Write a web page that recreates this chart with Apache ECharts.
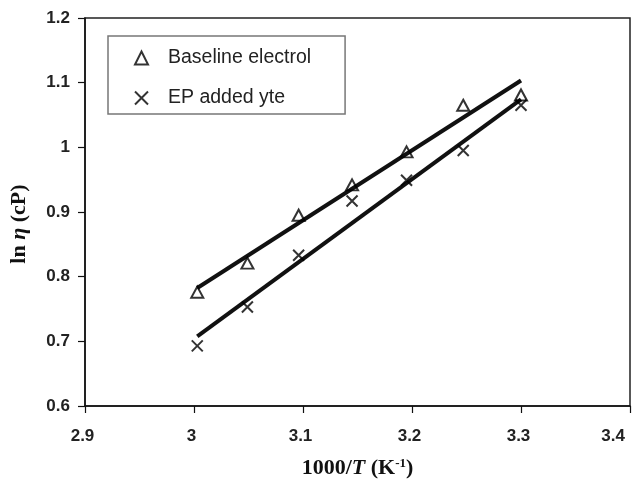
<!DOCTYPE html>
<html>
<head>
<meta charset="utf-8">
<script src="https://cdn.jsdelivr.net/npm/echarts@6/dist/echarts.min.js"></script>
<style>
html,body{margin:0;padding:0;background:#fff;}
#c{width:641px;height:490px;}
</style>
</head>
<body>
<div id="c"></div>
<script>
// Data
const xInvT = [3.003, 3.049, 3.096, 3.145, 3.195, 3.247, 3.300];
const baseline = [0.776, 0.821, 0.895, 0.942, 0.993, 1.065, 1.081];
const epAdded = [0.693, 0.753, 0.833, 0.917, 0.949, 0.995, 1.065];
const seriesNames = ['Baseline electrol', 'EP added yte'];
const xTicks = [2.9, 3, 3.1, 3.2, 3.3, 3.4];
const yTicks = [0.6, 0.7, 0.8, 0.9, 1, 1.1, 1.2];

function fitLine(xs, ys) {
  const n = xs.length;
  const mx = xs.reduce((a, b) => a + b, 0) / n;
  const my = ys.reduce((a, b) => a + b, 0) / n;
  let sxy = 0, sxx = 0;
  for (let i = 0; i < n; i++) { sxy += (xs[i] - mx) * (ys[i] - my); sxx += (xs[i] - mx) ** 2; }
  const k = sxy / sxx, b = my - k * mx;
  const x0 = xs[0], x1 = xs[n - 1];
  return [[x0, k * x0 + b], [x1, k * x1 + b]];
}
const pair = (xs, ys) => xs.map((x, i) => [x, ys[i]]);

const crossPath = 'path://M0,0L10,10M10,0L0,10';
const markerStyle = { color: 'transparent', borderColor: '#000', borderWidth: 2 };
const fmt = v => String(+(+v).toFixed(2));
const serif = 'Liberation Serif, Times New Roman, serif';
const sans = 'Liberation Sans, Arial, sans-serif';

const chart = echarts.init(document.getElementById('c'), null, { renderer: 'canvas' });
chart.setOption({
  animation: false,
  backgroundColor: '#fff',
  grid: { left: 85, right: 11, top: 18, bottom: 84, containLabel: false, outerBoundsMode: 'none',
    show: true, borderColor: '#222', borderWidth: 1.5, backgroundColor: 'transparent' },
  legend: {
    orient: 'vertical',
    left: 108, top: 36,
    data: seriesNames,
    itemWidth: 13, itemHeight: 13,
    itemGap: 20,
    padding: [12, 34, 6, 26],
    borderColor: '#777', borderWidth: 1.5,
    textStyle: { fontFamily: sans, fontSize: 19.5, lineHeight: 20, color: '#222', padding: [0, 0, 0, 15] }
  },
  xAxis: {
    type: 'value', min: 2.9, max: 3.4, interval: 0.1,
    name: '1000/{i|T} (K{sup|-1})',
    nameLocation: 'middle', nameGap: 51,
    nameTextStyle: {
      fontFamily: serif, fontWeight: 'bold', fontSize: 22, color: '#111',
      rich: {
        i: { fontFamily: serif, fontWeight: 'bold', fontStyle: 'italic', fontSize: 22, color: '#111' },
        sup: { fontFamily: serif, fontWeight: 'bold', fontSize: 13, color: '#111', padding: [0, 0, 10, 0] }
      }
    },
    axisLine: { lineStyle: { color: '#111', width: 1.5 } },
    axisTick: { show: true, inside: false, length: 7, lineStyle: { color: '#111', width: 1.2 } },
    axisLabel: { margin: 22, fontFamily: sans, fontWeight: 'bold', fontSize: 17, color: '#222', formatter: fmt,
      alignMaxLabel: 'right', padding: [0, 5, 0, 0],
      customValues: xTicks },
    splitLine: { show: false }
  },
  yAxis: {
    type: 'value', min: 0.6, max: 1.2, interval: 0.1,
    name: 'ln {i|η} (cP)',
    nameLocation: 'middle', nameGap: 55,
    nameTextStyle: {
      fontFamily: serif, fontWeight: 'bold', fontSize: 22, color: '#111', padding: [0, 24, 0, 0],
      rich: {
        i: { fontFamily: serif, fontStyle: 'italic', fontSize: 22, color: '#111' }
      }
    },
    axisLine: { show: true, lineStyle: { color: '#111', width: 1.5 } },
    axisTick: { show: true, inside: false, length: 7, lineStyle: { color: '#111', width: 1.2 } },
    axisLabel: { margin: 15, fontFamily: sans, fontWeight: 'bold', fontSize: 17, color: '#222', formatter: fmt,
      customValues: yTicks },
    splitLine: { show: false }
  },
  series: [
    { name: 'fit1', type: 'line', data: fitLine(xInvT, baseline), symbol: 'none', lineStyle: { color: '#111', width: 4 }, z: 2 },
    { name: 'fit2', type: 'line', data: fitLine(xInvT, epAdded), symbol: 'none', lineStyle: { color: '#111', width: 4 }, z: 2 },
    { name: seriesNames[0], type: 'scatter', data: pair(xInvT, baseline), symbol: 'triangle', symbolSize: [12, 11], itemStyle: markerStyle, z: 3 },
    { name: seriesNames[1], type: 'scatter', data: pair(xInvT, epAdded), symbol: crossPath, symbolSize: 11, itemStyle: markerStyle, z: 3 }
  ]
});
</script>
</body>
</html>
